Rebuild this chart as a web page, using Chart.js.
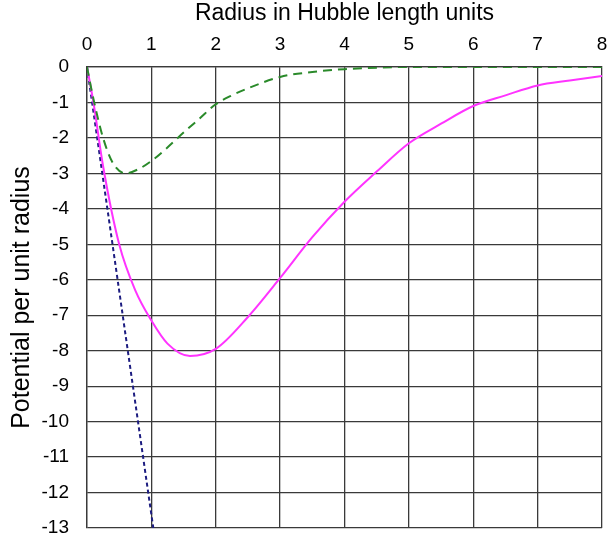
<!DOCTYPE html>
<html>
<head>
<meta charset="utf-8">
<script src="https://cdn.jsdelivr.net/npm/chart.js@4/dist/chart.umd.min.js"></script>
<style>
  html, body { margin: 0; padding: 0; background: #fff; }
  #wrap { width: 608px; height: 543px; }
</style>
</head>
<body>
<div id="wrap"><canvas id="chart" width="608" height="543"></canvas></div>
<script>
// radius values (Hubble length units) and potentials
const magentaX = [0, 0.1, 0.25, 0.5, 0.75, 1, 1.25, 1.6, 2, 2.5, 3, 3.5, 4, 4.5, 5, 5.5, 6, 6.5, 7, 7.5, 8];
const magentaY = [0, -1, -2.8, -5, -6.3, -7.15, -7.8, -8.15, -7.95, -7.05, -5.95, -4.8, -3.8, -2.95, -2.15, -1.6, -1.1, -0.8, -0.52, -0.38, -0.25];

const greenX = [0, 0.1, 0.25, 0.4, 0.6, 0.8, 1, 1.2, 1.5, 1.75, 2, 2.25, 2.5, 3, 3.5, 4, 4.5, 5, 6, 7, 8];
const greenY = [0, -0.9, -2.0, -2.7, -3.0, -2.88, -2.65, -2.35, -1.85, -1.45, -1.05, -0.8, -0.6, -0.28, -0.14, -0.06, -0.02, 0, 0, 0, 0];

const navyX = [0, 1.03];
const navyY = [0, -13];

const xTicks = [0, 1, 2, 3, 4, 5, 6, 7, 8];

function pts(xs, ys) {
    return xs.map((x, i) => ({ x: x, y: ys[i] }));
}

const ctx = document.getElementById('chart').getContext('2d');
const chart = new Chart(ctx, {
    type: 'line',
    data: {
        datasets: [
            {
                label: 'green',
                data: pts(greenX, greenY),
                borderColor: '#2a8a2a',
                borderWidth: 2,
                borderDash: [9, 6],
                pointRadius: 0,
                cubicInterpolationMode: 'monotone'
            },
            {
                label: 'magenta',
                data: pts(magentaX, magentaY),
                borderColor: '#ff33ff',
                borderWidth: 2,
                pointRadius: 0,
                cubicInterpolationMode: 'monotone'
            },
            {
                label: 'navy',
                data: pts(navyX, navyY),
                borderColor: '#1c1c80',
                borderWidth: 2,
                borderDash: [4, 3],
                pointRadius: 0
            }
        ]
    },
    options: {
        responsive: false,
        animation: false,
        layout: { padding: { right: 6, bottom: 15, left: 0, top: 0 } },
        plugins: { legend: { display: false }, tooltip: { enabled: false } },
        scales: {
            x: {
                type: 'linear',
                position: 'top',
                min: 0,
                max: 8,
                afterBuildTicks: scale => { scale.ticks = xTicks.map(v => ({ value: v })); },
                afterFit: scale => {
                    scale.height = 67;
                    scale.paddingLeft = 0;
                    scale.paddingRight = 0;
                },
                ticks: {
                    color: '#000',
                    padding: 11,
                    font: { family: 'Liberation Sans', size: 19 }
                },
                title: {
                    display: true,
                    text: 'Radius in Hubble length units',
                    color: '#000',
                    padding: { top: 0, bottom: 0 },
                    font: { family: 'Liberation Sans', size: 23 }
                },
                grid: { color: '#3a3a3a', lineWidth: 1.3, drawTicks: false },
                border: { color: '#3a3a3a', width: 1.3 }
            },
            y: {
                min: -13,
                max: 0,
                afterFit: scale => {
                    scale.width = 87;
                    scale.paddingTop = 0;
                    scale.paddingBottom = 0;
                },
                ticks: {
                    stepSize: 1,
                    color: '#000',
                    padding: 18,
                    font: { family: 'Liberation Sans', size: 19 }
                },
                title: {
                    display: true,
                    text: 'Potential per unit radius',
                    color: '#000',
                    padding: { top: 7, bottom: 0 },
                    font: { family: 'Liberation Sans', size: 25 }
                },
                grid: { color: '#3a3a3a', lineWidth: 1.3, drawTicks: false },
                border: { color: '#3a3a3a', width: 1.3 }
            }
        }
    }
});
</script>
</body>
</html>
